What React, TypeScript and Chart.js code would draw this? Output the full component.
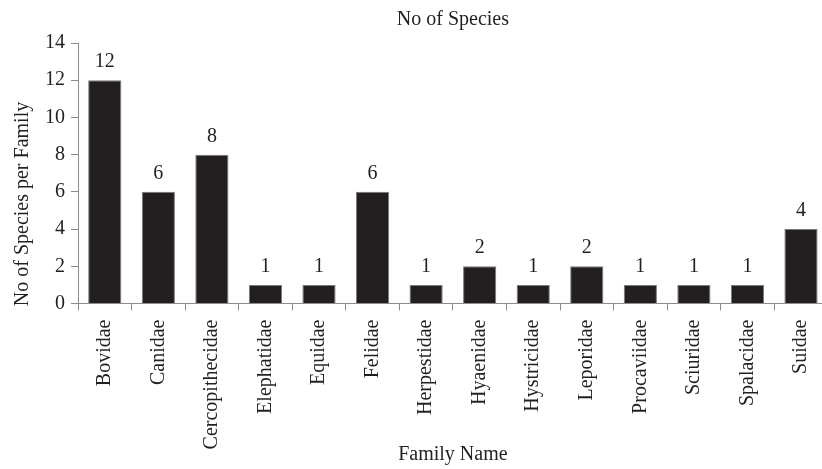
import React, { useEffect, useRef } from "react";
import { Chart, registerables } from "chart.js";

Chart.register(...registerables);

const categories = [
  "Bovidae",
  "Canidae",
  "Cercopithecidae",
  "Elephatidae",
  "Equidae",
  "Felidae",
  "Herpestidae",
  "Hyaenidae",
  "Hystricidae",
  "Leporidae",
  "Procaviidae",
  "Sciuridae",
  "Spalacidae",
  "Suidae",
];
const speciesCounts = [12, 6, 8, 1, 1, 6, 1, 2, 1, 2, 1, 1, 1, 4];
const chartTitle = "No of Species";
const yAxisTitle = "No of Species per Family";
const xAxisTitle = "Family Name";

const FONT = "'Liberation Serif', 'Times New Roman', serif";
const TEXT = "#231f20";
const AXIS = "#8c8c8c";

const labelsPlugin = {
  id: "valueLabels",
  afterDatasetsDraw(chart: any) {
    const ctx = chart.ctx;
    const meta = chart.getDatasetMeta(0);
    ctx.save();
    ctx.font = `20px ${FONT}`;
    ctx.fillStyle = TEXT;
    ctx.textAlign = "center";
    ctx.textBaseline = "alphabetic";
    meta.data.forEach((bar: any, i: number) => {
      ctx.fillText(String(speciesCounts[i]), bar.x, bar.y - 13);
    });
    ctx.restore();
  },
};

const titlePlugin = {
  id: "centerTitle",
  afterDraw(chart: any) {
    const ctx = chart.ctx;
    const { left, right } = chart.chartArea;
    ctx.save();
    ctx.font = `20px ${FONT}`;
    ctx.fillStyle = TEXT;
    ctx.textAlign = "center";
    ctx.textBaseline = "middle";
    ctx.fillText(chartTitle, (left + right) / 2, 20);
    // y-axis title, rotated
    ctx.translate(23, 204);
    ctx.rotate(-Math.PI / 2);
    ctx.fillText(yAxisTitle, 0, 0);
    ctx.restore();
  },
};

export default function App() {
  const canvasRef = useRef<HTMLCanvasElement | null>(null);

  useEffect(() => {
    if (!canvasRef.current) return;
    const chart = new Chart(canvasRef.current, {
      type: "bar",
      data: {
        labels: categories,
        datasets: [
          {
            data: speciesCounts,
            backgroundColor: "#231f20",
            borderColor: "#7a7a7a",
            borderWidth: 1,
            barPercentage: 0.62,
            categoryPercentage: 1.0,
          },
        ],
      },
      options: {
        animation: false,
        responsive: false,
        devicePixelRatio: 1,
        layout: { padding: { top: 43, left: 0, right: 0, bottom: 0 } },
        plugins: {
          legend: { display: false },
          tooltip: { enabled: false },
          title: { display: false },
        },
        scales: {
          x: {
            afterFit: (scale: any) => {
              scale.height = 165.5;
            },
            grid: {
              display: true,
              drawOnChartArea: false,
              drawTicks: true,
              tickLength: 7,
              color: AXIS,
              offset: true,
            },
            border: { display: true, color: AXIS, width: 1 },
            ticks: {
              minRotation: 90,
              maxRotation: 90,
              autoSkip: false,
              padding: 9,
              color: TEXT,
              font: { family: FONT, size: 20 },
            },
            title: {
              display: true,
              text: xAxisTitle,
              color: TEXT,
              font: { family: FONT, size: 20 },
              padding: { top: 0, bottom: 2 },
            },
          },
          y: {
            min: 0,
            max: 14,
            afterFit: (scale: any) => {
              scale.width = 78;
            },
            grid: {
              display: true,
              drawOnChartArea: false,
              drawTicks: true,
              tickLength: 7,
              color: AXIS,
            },
            border: { display: true, color: AXIS, width: 1 },
            ticks: {
              stepSize: 2,
              padding: 6,
              color: TEXT,
              font: { family: FONT, size: 20 },
            },
            title: { display: false },
          },
        },
      },
      plugins: [labelsPlugin, titlePlugin],
    });
    return () => chart.destroy();
  }, []);

  return (
    <div
      style={{
        position: "fixed",
        left: 0,
        top: 0,
        width: 822,
        height: 469,
        overflow: "hidden",
        background: "#ffffff",
      }}
    >
      <canvas
        ref={canvasRef}
        width={834}
        height={469}
        style={{ width: 834, height: 469, display: "block" }}
      />
    </div>
  );
}
